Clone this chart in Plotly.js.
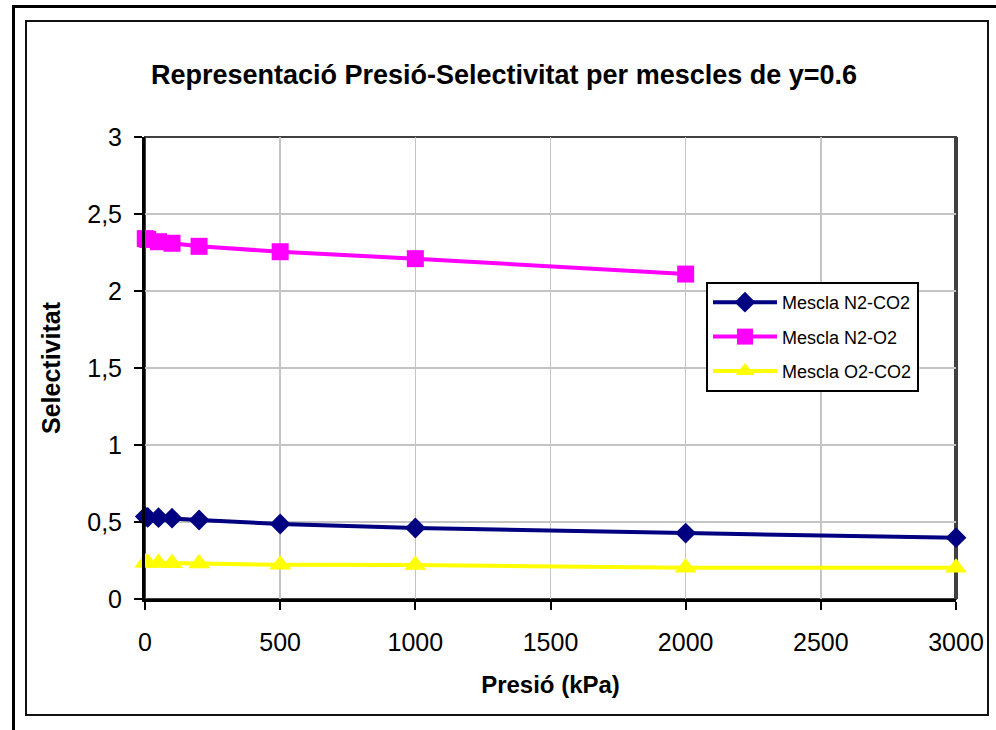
<!DOCTYPE html>
<html>
<head>
<meta charset="utf-8">
<script src="https://cdn.plot.ly/plotly-3.0.1.min.js"></script>
<style>
  html, body { margin: 0; padding: 0; background: #fff; }
  #wrap { position: relative; width: 996px; height: 730px; overflow: hidden; }
  #chart { position: absolute; left: 0; top: 0; width: 996px; height: 730px; }
  .frame { position: absolute; pointer-events: none; box-sizing: border-box; }
  #outer { left: 12px; top: 5px; width: 1100px; height: 900px; border: 3px solid #000; }
  #inner { left: 25px; top: 20px; width: 964px; height: 696px; border: 2px solid #111; }
</style>
</head>
<body>
<div id="wrap">
  <div id="chart"></div>
  <div id="outer" class="frame"></div>
  <div id="inner" class="frame"></div>
</div>
<script>
// ---- data ----
const pressure = [1, 10, 50, 100, 200, 500, 1000, 2000, 3000];
const pressureN2O2 = [1, 10, 50, 100, 200, 500, 1000, 2000];
const selN2CO2 = [0.535, 0.53, 0.528, 0.525, 0.513, 0.487, 0.461, 0.428, 0.398];
const selN2O2  = [2.34, 2.335, 2.32, 2.31, 2.29, 2.255, 2.21, 2.11];
const selO2CO2 = [0.235, 0.235, 0.233, 0.232, 0.23, 0.222, 0.22, 0.203, 0.203];
const seriesNames = ['Mescla N2-CO2', 'Mescla N2-O2', 'Mescla O2-CO2'];
const yTickVals = [0, 0.5, 1, 1.5, 2, 2.5, 3];
const yTickText = ['0', '0,5', '1', '1,5', '2', '2,5', '3'];
const xTickVals = [0, 500, 1000, 1500, 2000, 2500, 3000];
const xTickText = ['0', '500', '1000', '1500', '2000', '2500', '3000'];

const FONT = 'Liberation Sans, Arial, sans-serif';

const traces = [
  { x: pressure, y: selN2CO2, name: seriesNames[0], type: 'scatter', mode: 'lines+markers',
    line: { color: '#000080', width: 4 },
    marker: { symbol: 'diamond', size: 16, color: '#000080' },
    cliponaxis: false, legendgroup: 'a' },
  { x: pressureN2O2, y: selN2O2, name: seriesNames[1], type: 'scatter', mode: 'lines+markers',
    line: { color: '#FF00FF', width: 4 },
    marker: { symbol: 'square', size: 17, color: '#FF00FF' },
    cliponaxis: false, legendgroup: 'b' },
  { x: pressure, y: selO2CO2, name: seriesNames[2], type: 'scatter', mode: 'lines+markers',
    line: { color: '#FFFF00', width: 4 },
    marker: { symbol: 'triangle-up', size: 19, color: '#FFFF00' },
    cliponaxis: false, legendgroup: 'c' }
];

const layout = {
  width: 996, height: 730,
  margin: { l: 145, r: 40, t: 137, b: 131 },
  paper_bgcolor: '#fff', plot_bgcolor: '#fff',
  font: { family: FONT, color: '#000' },
  title: {
    text: 'Representació Presió-Selectivitat per mescles de y=0.6',
    font: { family: FONT, size: 27, weight: 'bold', color: '#000' },
    x: 504 / 996, xanchor: 'center', xref: 'container',
    y: 1 - 75 / 730, yanchor: 'middle', yref: 'container'
  },
  xaxis: {
    range: [0, 3000], tickmode: 'array', tickvals: xTickVals, ticktext: xTickText,
    showgrid: true, gridcolor: '#c4c4c4', gridwidth: 1.5,
    showline: true, linecolor: '#000', linewidth: 3,
    ticks: 'outside', ticklen: 8, tickwidth: 2, tickcolor: '#000',
    ticklabelstandoff: 11,
    tickfont: { family: FONT, size: 25, color: '#000' },
    zeroline: false,
    title: { text: 'Presió (kPa)', font: { family: FONT, size: 24, weight: 'bold', color: '#000' }, standoff: 22 }
  },
  yaxis: {
    range: [0, 3], tickmode: 'array', tickvals: yTickVals, ticktext: yTickText,
    showgrid: true, gridcolor: '#c4c4c4', gridwidth: 1.5,
    showline: true, linecolor: '#000', linewidth: 3,
    ticks: 'outside', ticklen: 8, tickwidth: 2, tickcolor: '#000',
    ticklabelstandoff: 7,
    tickfont: { family: FONT, size: 25, color: '#000' },
    zeroline: false,
    title: { text: 'Selectivitat', font: { family: FONT, size: 25, weight: 'bold', color: '#000' }, standoff: 20 }
  },
  shapes: [
    { type: 'rect', xref: 'paper', yref: 'paper', x0: 0, x1: 1, y0: 0, y1: 1,
      line: { color: '#404040', width: 2 }, layer: 'below' },
    { type: 'line', xref: 'paper', yref: 'paper', x0: 1, x1: 1, y0: 0, y1: 1,
      line: { color: '#404040', width: 4 }, layer: 'below' }
  ],
  showlegend: true,
  legend: {
    x: (706 - 145) / 811, y: (599 - 282) / 462, xanchor: 'left', yanchor: 'top',
    bgcolor: '#fff', bordercolor: '#000', borderwidth: 2,
    font: { family: FONT, size: 18, color: '#000' },
    itemwidth: 64, traceorder: 'grouped', tracegroupgap: 8
  }
};

Plotly.newPlot('chart', traces, layout, { displayModeBar: false, staticPlot: true });
</script>
</body>
</html>
